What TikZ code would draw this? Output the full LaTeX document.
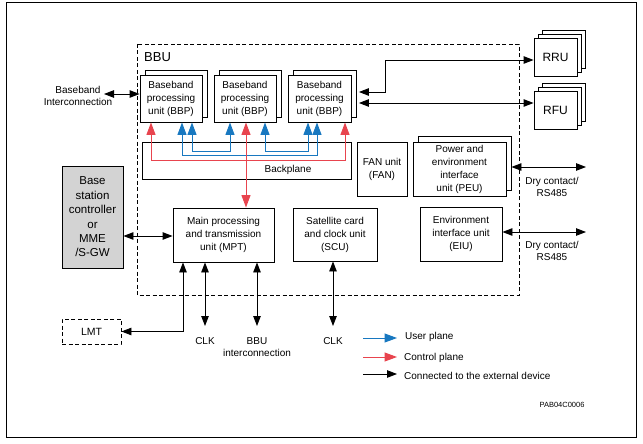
\documentclass[tikz,border=0pt]{standalone}
\usepackage{fontspec}
\setmainfont{Liberation Sans}
\usetikzlibrary{arrows.meta,calc}
\definecolor{upl}{RGB}{24,120,192}
\definecolor{cpl}{RGB}{232,68,78}
\definecolor{bscgray}{RGB}{211,211,211}
\tikzset{
  blk/.tip={Triangle[length=10pt,width=7.5pt]},
  clr/.tip={Triangle[length=12.5pt,width=9pt]}
}
\begin{document}
\begin{tikzpicture}[x=1pt,y=-1pt,
  lw/.style={line width=0.9pt},
  box/.style={draw,lw,fill=white,inner sep=0pt,align=center,font=\fontsize{10}{13}\selectfont},
  sbox/.style={draw,lw,fill=white,inner sep=0pt},
  lbl/.style={inner sep=0pt,align=center,font=\fontsize{10}{12}\selectfont},
  ext/.style={lw,blk-blk},
  extone/.style={lw,-blk},
  uplane/.style={draw=upl,line width=1pt,clr-clr},
  cplane/.style={draw=cpl,line width=1pt,clr-clr},
  dashframe/.style={draw,lw,dash pattern=on 4pt off 2.5pt}
]
\useasboundingbox (0,0) rectangle (643,444);
% outer frame
\draw[lw] (6,2) rectangle (636,437);
% BBU frame
\draw[dashframe] (137,44) rectangle (519,295);
\node[anchor=west,inner sep=0pt,font=\fontsize{13}{15}\selectfont] (bbul) at (144,57) {BBU};

% BBP stacks
\node[sbox,minimum width=62pt,minimum height=47pt] (bbp1b) at (176,93.5) {};
\node[box,minimum width=62pt,minimum height=47pt] (bbp1) at (171,98.5) {Baseband\\processing\\unit (BBP)};
\node[sbox,minimum width=62pt,minimum height=47pt] (bbp2b) at (250,93.5) {};
\node[box,minimum width=62pt,minimum height=47pt] (bbp2) at (245,98.5) {Baseband\\processing\\unit (BBP)};
\node[sbox,minimum width=63pt,minimum height=47pt] (bbp3b) at (324.5,93.5) {};
\node[box,minimum width=63pt,minimum height=47pt] (bbp3) at (319.5,98.5) {Baseband\\processing\\unit (BBP)};

% Backplane
\node[box,minimum width=209pt,minimum height=37pt] (bp) at (246.5,160.5) {};
\node[lbl] (bpt) at (288,170) {Backplane};

% FAN, PEU, EIU
\node[box,minimum width=50pt,minimum height=54pt] (fan) at (382,169) {FAN unit\\(FAN)};
\node[sbox,minimum width=93pt,minimum height=54pt] (peub) at (464.5,163) {};
\node[box,minimum width=93pt,minimum height=54pt] (peu) at (459.5,169) {Power and\\environment\\interface\\unit (PEU)};
\node[box,minimum width=82pt,minimum height=54pt] (eiu) at (461,234) {Environment\\interface unit\\(EIU)};

% MPT, SCU
\node[box,minimum width=101pt,minimum height=54pt] (mpt) at (223.5,235) {Main processing\\and transmission\\unit (MPT)};
\node[box,minimum width=84pt,minimum height=53pt] (scu) at (335,234.5) {Satellite card\\and clock unit\\(SCU)};

% BSC
\node[draw,lw,fill=bscgray,inner sep=0pt,align=center,minimum width=61pt,minimum height=102pt,
  font=\fontsize{11.5}{14.4}\selectfont] (bsc) at (92.5,217) {Base\\station\\controller\\or\\MME\\/S-GW};
% LMT
\node[dashframe,inner sep=0pt,minimum width=59pt,minimum height=25pt,font=\fontsize{10.5}{12}\selectfont] (lmt) at (91.5,331.5) {LMT};

% RRU / RFU stacks
\node[sbox,minimum width=43pt,minimum height=38pt] (rru3) at (563.5,49) {};
\node[sbox,minimum width=43pt,minimum height=38pt] (rru2) at (559.5,53) {};
\node[sbox,minimum width=43pt,minimum height=38pt,font=\fontsize{12}{14}\selectfont] (rru) at (555.5,57) {RRU};
\node[sbox,minimum width=43pt,minimum height=38pt] (rfu3) at (563.5,102) {};
\node[sbox,minimum width=43pt,minimum height=38pt] (rfu2) at (559.5,106) {};
\node[sbox,minimum width=43pt,minimum height=38pt,font=\fontsize{12}{14}\selectfont] (rfu) at (555.5,110) {RFU};

% labels
\node[lbl,font=\fontsize{10}{12}\selectfont] (bic) at (78,96) {Baseband\\Interconnection};
\coordinate (bicend) at (104,94);
\node[lbl] (dry1) at (552,187) {Dry contact/\\RS485};
\node[lbl] (dry2) at (552,251) {Dry contact/\\RS485};
\coordinate (dc1) at (586,167);
\coordinate (dc2) at (586,232);
\node[lbl,anchor=north] (clk1) at (205,337) {CLK};
\node[lbl,anchor=north] (bbuic) at (257,337) {BBU\\interconnection};
\node[lbl,anchor=north] (clk2) at (333,337) {CLK};

% black connections
\draw[ext] (bicend) -- (bbp1.west |- bicend);
\draw[ext,shorten <=2.5pt] (bbp3b.east |- 0,92) -- (385,92) -- (385,60) -- (rru.west |- 0,60);
\draw[ext,shorten <=2.5pt] (bbp3b.east |- 0,103) -- (rfu.west |- 0,103);
\draw[ext] (peub.east |- 0,167) -- (dc1);
\draw[ext] (eiu.east |- dc2) -- (dc2);
\draw[ext] (bsc.east |- 0,236) -- (mpt.west |- 0,236);
\draw[ext] (183,0 |- mpt.south) |- (lmt.east);
\draw[ext] (205,0 |- mpt.south) -- ($(clk1.north)+(0,-11)$);
\draw[ext] (257,0 |- mpt.south) -- ($(bbuic.north)+(0,-11)$);
\draw[ext] (333,0 |- scu.south) -- ($(clk2.north)+(0,-11)$);

% user plane (blue)
\draw[uplane] (182,0 |- bbp1.south) -- (182,155) -- (317,155) -- (317,0 |- bbp3.south);
\draw[uplane] (192,0 |- bbp1.south) -- (192,151) -- (230,151) -- (230,0 |- bbp2.south);
\draw[uplane] (265,0 |- bbp2.south) -- (265,151) -- (308,151) -- (308,0 |- bbp3.south);
% control plane (red)
\draw[cplane] (151,0 |- bbp1.south) -- (151,160) -- (345,160) -- (345,0 |- bbp3.south);
\draw[cplane] (246,0 |- bbp2.south) -- (246,0 |- mpt.north);

% legend
\coordinate (lg1a) at (363,338); \coordinate (lg1b) at (397,338);
\coordinate (lg2a) at (363,357); \coordinate (lg2b) at (397,357);
\coordinate (lg3a) at (363,374); \coordinate (lg3b) at (397,374);
\draw[draw=upl,line width=1pt,-clr] (lg1a) -- (lg1b);
\draw[draw=cpl,line width=1pt,-clr] (lg2a) -- (lg2b);
\draw[extone] (lg3a) -- (lg3b);
\node[lbl,anchor=west] (lt1) at (405,337) {User plane};
\node[lbl,anchor=west] (lt2) at (404,358) {Control plane};
\node[lbl,anchor=west] (lt3) at (404,376) {Connected to the external device};

\node[inner sep=0pt,font=\fontsize{7.5}{9}\selectfont] (code) at (562,405) {PAB04C0006};
\end{tikzpicture}
\end{document}
